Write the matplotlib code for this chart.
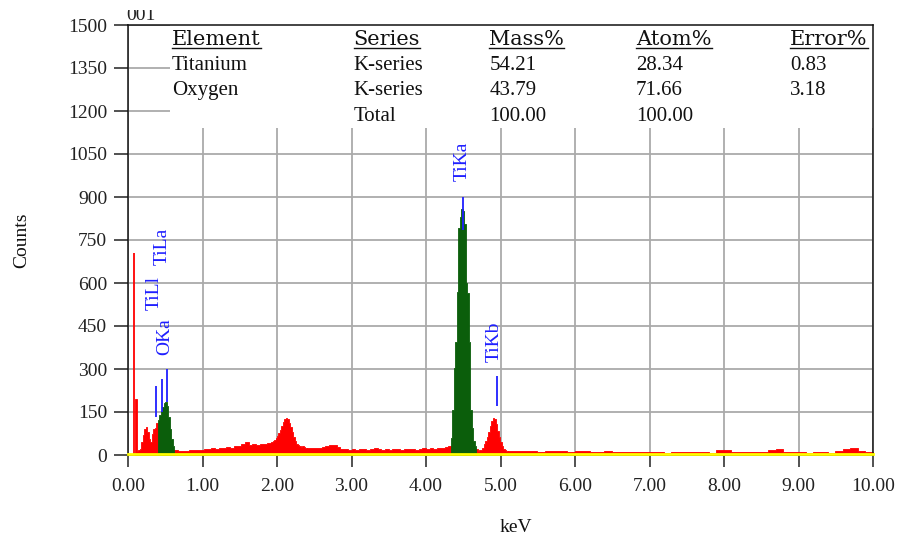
import numpy as np
import matplotlib
matplotlib.use("Agg")
import matplotlib.pyplot as plt
from matplotlib.patches import Rectangle
from matplotlib.lines import Line2D
from matplotlib.transforms import Bbox

plt.rcParams["font.family"] = ["Liberation Serif", "DejaVu Serif"]

# ---------------- spectrum (keV channels, counts) ----------------
spike_keV, spike_counts = 0.085, 705

low_start, low_step = 0.10, 0.02
low_counts = [195, 14, 17, 22, 45, 70, 92, 98, 80, 55, 47, 72, 92, 94, 110]

oxygen_start, oxygen_step = 0.40, 0.02
oxygen_counts = [122, 138, 152, 168, 182, 186, 170, 132, 92, 55, 30]

bg1_start, bg1_step = 0.62, 0.05
bg1_counts = [16, 13, 15, 14, 17, 16, 19, 18, 21, 20, 23, 21, 25, 24, 27,
              26, 30, 32, 38, 45, 36, 38, 36, 40, 38, 42]

peak2_start, peak2_step = 1.92, 0.02
peak2_counts = [45, 48, 52, 58, 66, 76, 88, 102, 116, 126, 130, 124, 112, 96,
                80, 64, 50, 40, 34, 30, 28, 30, 27, 25]

bg2_start, bg2_step = 2.40, 0.05
bg2_counts = [24, 26, 23, 25, 27, 30, 36, 34, 28, 22, 20, 19, 21, 18, 20, 22,
              19, 20, 23, 21, 19, 20, 18, 20, 21, 19, 22, 20, 21, 19, 22, 23,
              21, 24, 22, 25, 24, 27, 30]

tika_start, tika_step = 4.335, 0.02
tika_counts = [60, 157, 303, 394, 570, 792, 830, 858, 850, 805, 600, 565, 394,
               157, 94, 50, 30]

tikb_start, tikb_step = 4.675, 0.02
tikb_counts = [20, 15, 16, 18, 25, 38, 48, 62, 80, 100, 120, 130, 126, 108, 85,
               62, 45, 32, 22, 16, 14]

bg3_start, bg3_step = 5.095, 0.1
bg3_counts = [15, 14, 13, 14, 12, 13, 14, 13, 12, 14, 13, 12, 11, 13, 12, 11,
              10, 12, 11, 12, 10, 6, 11, 9, 12, 10, 11, 7, 16, 18, 12, 10, 11,
              10, 12, 18, 22, 11, 10, 11, 6, 10, 11, 7, 14, 22, 26, 14, 10]

# ---------------- line markers ----------------
marker_names = ["TiLl", "TiLa", "OKa", "TiKa", "TiKb"]
marker_keV = [0.376, 0.456, 0.523, 4.497, 4.953]
marker_low = [133, 150, 185, 785, 171]
marker_high = [241, 265, 300, 900, 276]
label_keV = [0.356, 0.463, 0.497, 4.49, 4.91]
label_base = [506, 663, 349, 956, 324]

# ---------------- quantification table ----------------
table_headers = ["Element", "Series", "Mass%", "Atom%", "Error%"]
table_rows = [
    ["Titanium", "K-series", "54.21", "28.34", "0.83"],
    ["Oxygen", "K-series", "43.79", "71.66", "3.18"],
    ["", "Total", "100.00", "100.00", ""],
]

x_ticks = np.arange(0, 11, 1)
y_ticks = np.arange(0, 1501, 150)

RED = "#ff0000"
GREEN = "#0b5e0b"
BLUE = "#1f1fff"

W, H = 898, 536
fig = plt.figure(figsize=(W / 100, H / 100), dpi=100)
ax = fig.add_axes([128 / W, 1 - 455 / H, 745 / W, 430 / H])
ax.set_xlim(0, 10)
ax.set_ylim(0, 1500)


def draw_segment(start, step, counts, color):
    edges = start + step * np.arange(len(counts) + 1)
    vals = np.r_[counts, counts[-1]]
    ax.fill_between(edges, 0, vals, step="post", facecolor=color,
                    edgecolor=color, linewidth=0.6, antialiased=False,
                    zorder=2)


for s, st, c in [(low_start, low_step, low_counts),
                 (bg1_start, bg1_step, bg1_counts),
                 (peak2_start, peak2_step, peak2_counts),
                 (bg2_start, bg2_step, bg2_counts),
                 (tikb_start, tikb_step, tikb_counts),
                 (bg3_start, bg3_step, bg3_counts)]:
    draw_segment(s, st, c, RED)
ax.vlines(spike_keV, 0, spike_counts, color=RED, lw=1.3, zorder=2)
draw_segment(oxygen_start, oxygen_step, oxygen_counts, GREEN)
draw_segment(tika_start, tika_step, tika_counts, GREEN)

# baseline
ax.axhline(2, color="#ffff00", lw=2.0, zorder=3, clip_on=False)

# element markers
ax.vlines(marker_keV, marker_low, marker_high, color=BLUE, lw=1.3, zorder=4)
for name, xk, yb in zip(marker_names, label_keV, label_base):
    ax.text(xk, yb, name, rotation=90, ha="center", va="bottom",
            color=BLUE, fontsize=14, zorder=5)

# grid, ticks, spines
ax.set_xticks(x_ticks)
ax.set_xticklabels([f"{v:.2f}" for v in x_ticks])
ax.set_yticks(y_ticks)
ax.set_yticklabels([str(v) for v in y_ticks])
ax.grid(True, color="#aaaaaa", lw=1.3)
ax.set_axisbelow(True)
ax.tick_params(axis="y", length=10, width=1.1, pad=5, labelsize=14,
               colors="#222222")
ax.tick_params(axis="x", length=8.6, width=1.1, pad=8, labelsize=14,
               colors="#222222")
for sp in ax.spines.values():
    sp.set_color("#111111")
    sp.set_linewidth(1.1)

# table panel
ax.add_patch(Rectangle((0.56, 1141), 9.44, 359, facecolor="white",
                       edgecolor="none", zorder=1))
col_x = [0.59, 3.03, 4.85, 6.82, 8.89]
header_y = 1430
row_y = [1343, 1256, 1165]
header_texts = []
for xk, h in zip(col_x, table_headers):
    header_texts.append(ax.text(xk, header_y, h, ha="left", va="baseline",
                                fontsize=15, family="DejaVu Serif",
                                color="#111111", zorder=5))
for yv, row in zip(row_y, table_rows):
    for xk, cell in zip(col_x, row):
        if cell:
            ax.text(xk, yv, cell, ha="left", va="baseline", fontsize=15,
                    color="#111111", zorder=5)

# axis titles
fig.text(22 / W, 1 - 240 / H, "Counts", rotation=90, ha="center",
         va="center", fontsize=14, color="#111111")
fig.text(516 / W, 1 - 528 / H, "keV", ha="center", va="center",
         fontsize=14, color="#111111")

# spectrum id, cut at the top edge
t = fig.text(126 / W, 1 - 20 / H, "001", ha="left", va="baseline",
             fontsize=14, color="#222222")
t.set_clip_box(Bbox([[0, 0], [W, H - 10]]))
t.set_clip_on(True)

# underline the table headers
fig.canvas.draw()
r = fig.canvas.get_renderer()
for ht in header_texts:
    bb = ht.get_window_extent(r)
    yb = ax.transData.transform((0, header_y))[1] - 2.5
    fig.add_artist(Line2D([bb.x0 / W, bb.x1 / W], [yb / H, yb / H],
                          transform=fig.transFigure, color="#111111",
                          lw=1.0))

fig.savefig("out.png", dpi=100)
